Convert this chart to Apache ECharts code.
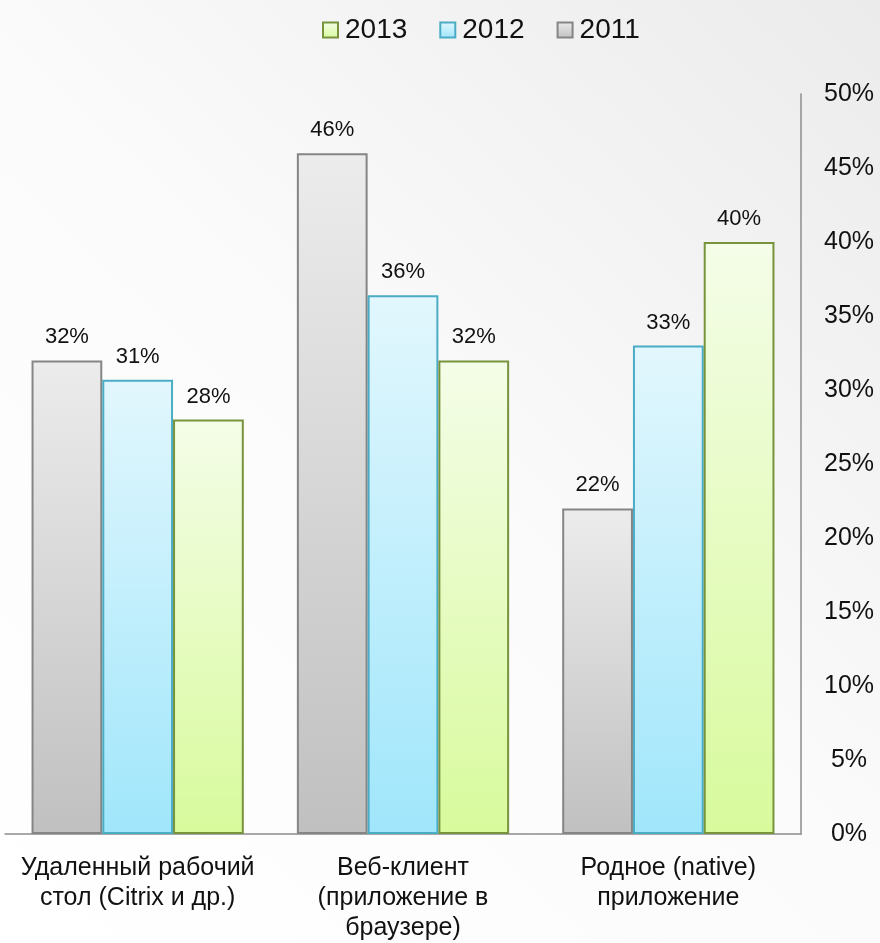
<!DOCTYPE html>
<html><head><meta charset="utf-8">
<script src="https://cdn.jsdelivr.net/npm/echarts@6/dist/echarts.min.js"></script>
<style>html,body{margin:0;padding:0;}#c{width:880px;height:943px;}</style>
</head><body><div id="c"></div>
<script>
var categories = ['Удаленный рабочий\nстол (Citrix и др.)', 'Веб-клиент\n(приложение в\nбраузере)', 'Родное (native)\nприложение'];
var s2011 = [32, 46, 22];
var s2012 = [30.7, 36.4, 33];
var s2013 = [28, 32, 40];
var legendOrder = ['2013', '2012', '2011'];

function grad(top, bottom) {
  return new echarts.graphic.LinearGradient(0, 0, 0, 1, [{offset: 0, color: top}, {offset: 1, color: bottom}]);
}
var font = 'Liberation Sans, Arial, sans-serif';
function mk(name, data, top, bottom, border) {
  return {
    name: name, type: 'bar', data: data, barGap: '0%', barCategoryGap: '20%',
    itemStyle: {color: grad(top, bottom), borderColor: border, borderWidth: 2},
    label: {show: true, position: 'top', distance: 12, color: '#111', fontSize: 22, fontFamily: font,
      formatter: function (p) { return Math.round(p.value) + '%'; }}
  };
}
var chart = echarts.init(document.getElementById('c'));
chart.setOption({
  backgroundColor: new echarts.graphic.LinearGradient(1, 0, 0, 1, [{offset: 0, color: '#ebebeb'}, {offset: 0.5, color: '#fbfbfb'}, {offset: 1, color: '#ffffff'}]),
  legend: {data: legendOrder, top: 11, left: 317, icon: 'rect', itemWidth: 15, itemHeight: 15, itemGap: 32,
    textStyle: {fontSize: 28, fontFamily: font, color: '#111', padding: [0,0,0,2]}},
  grid: {left: 5, right: 79, top: 94, bottom: 104},
  xAxis: {type: 'category', data: categories,
    axisLine: {lineStyle: {color: '#8c8c8c', width: 1.5}}, axisTick: {show: false},
    axisLabel: {fontSize: 25, fontFamily: font, color: '#111', margin: 19, lineHeight: 30, interval: 0}},
  yAxis: {type: 'value', position: 'right', min: 0, max: 50, interval: 5,
    axisLine: {show: true, lineStyle: {color: '#8c8c8c', width: 1.5}}, axisTick: {show: false},
    splitLine: {show: false},
    axisLabel: {fontSize: 25, fontFamily: font, color: '#111', margin: 48, align: 'center', formatter: '{value}%'}},
  series: [
    mk('2011', s2011, '#ececec', '#c0c0c0', '#858585'),
    mk('2012', s2012, '#e2f7fd', '#a0e6fb', '#4bacc6'),
    mk('2013', s2013, '#f4fde8', '#d8fa9c', '#77933c')
  ]
});
</script></body></html>
